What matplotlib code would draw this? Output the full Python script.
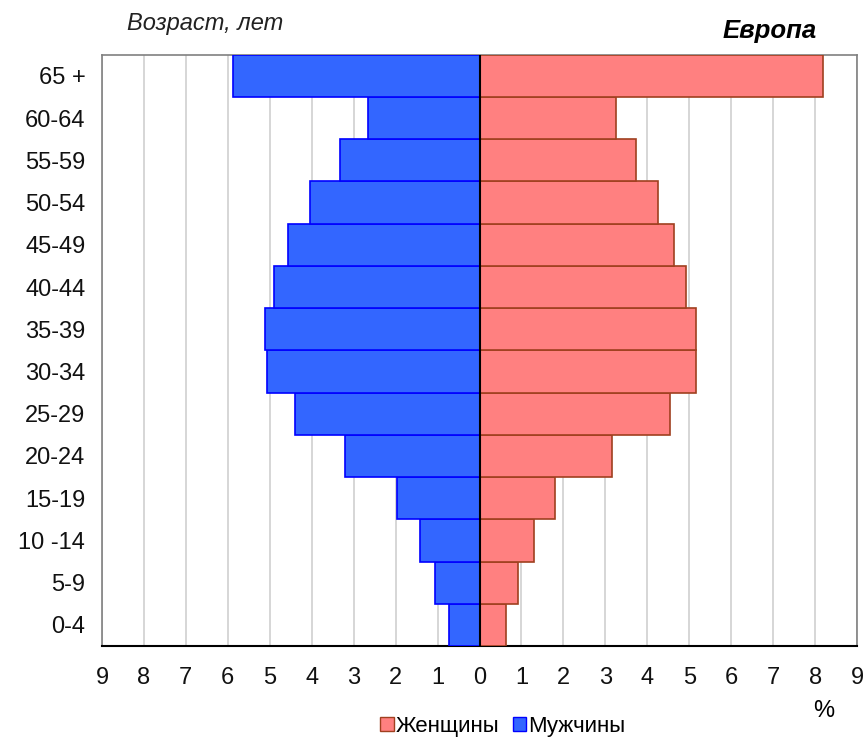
import numpy as np
import matplotlib
matplotlib.use("Agg")
import matplotlib.pyplot as plt
from matplotlib.patches import Patch

plt.rcParams['font.family'] = ['Liberation Sans', 'DejaVu Sans']

# age groups, bottom to top
ages = ["0-4", "5-9", "10 -14", "15-19", "20-24", "25-29", "30-34",
        "35-39", "40-44", "45-49", "50-54", "55-59", "60-64", "65 +"]
men = [0.72, 1.05, 1.43, 1.96, 3.20, 4.39, 5.06,
       5.11, 4.89, 4.56, 4.03, 3.32, 2.65, 5.87]
women = [0.62, 0.91, 1.29, 1.81, 3.15, 4.53, 5.16,
         5.16, 4.92, 4.63, 4.25, 3.72, 3.25, 8.19]
xticks = list(range(-9, 10))

fig = plt.figure(figsize=(8.64, 7.40), dpi=100)
ax = fig.add_axes([0.118, 0.127, 0.874, 0.799])

y = np.arange(len(ages))
ax.barh(y, [-m for m in men], height=1.0, color="#3366FF",
        edgecolor="#0000FF", linewidth=1.2, zorder=3)
ax.barh(y, women, height=1.0, color="#FF8080",
        edgecolor="#A0401F", linewidth=1.2, zorder=3)

ax.set_xlim(-9, 9)
ax.set_ylim(-0.5, len(ages) - 0.5)
ax.set_xticks(xticks)
ax.set_xticklabels([str(abs(t)) for t in xticks])
ax.set_yticks(y)
ax.set_yticklabels(ages)
ax.tick_params(axis='both', length=0, labelsize=17, labelcolor="#111111")
ax.tick_params(axis='x', pad=15)
ax.tick_params(axis='y', pad=12)
ax.grid(axis='x', color="#CFCFCF", linewidth=1.2, zorder=0)
ax.axvline(0, color="black", linewidth=1.5, zorder=4)

for s in ['left', 'right', 'top']:
    ax.spines[s].set_color("#808080")
    ax.spines[s].set_linewidth(1.2)
ax.spines['bottom'].set_color("black")
ax.spines['bottom'].set_linewidth(1.5)

fig.text(0.147, 0.968, "Возраст, лет", fontsize=17, style='italic',
         color="#222222", ha='left', va='center')
fig.text(0.945, 0.958, "Европа", fontsize=18.5, style='italic',
         weight='bold', ha='right', va='center')
fig.text(0.953, 0.039, "%", fontsize=17, ha='center', va='center')

handles = [Patch(facecolor="#FF8080", edgecolor="#A0401F", label="Женщины"),
           Patch(facecolor="#3366FF", edgecolor="#0000FF", label="Мужчины")]
fig.legend(handles=handles, loc='center', bbox_to_anchor=(0.582, 0.018),
           ncol=2, frameon=False, fontsize=16, handlelength=0.6,
           handleheight=0.6, handletextpad=0.1, columnspacing=0.6,
           borderpad=0.0)

fig.savefig("out.png", dpi=100)
